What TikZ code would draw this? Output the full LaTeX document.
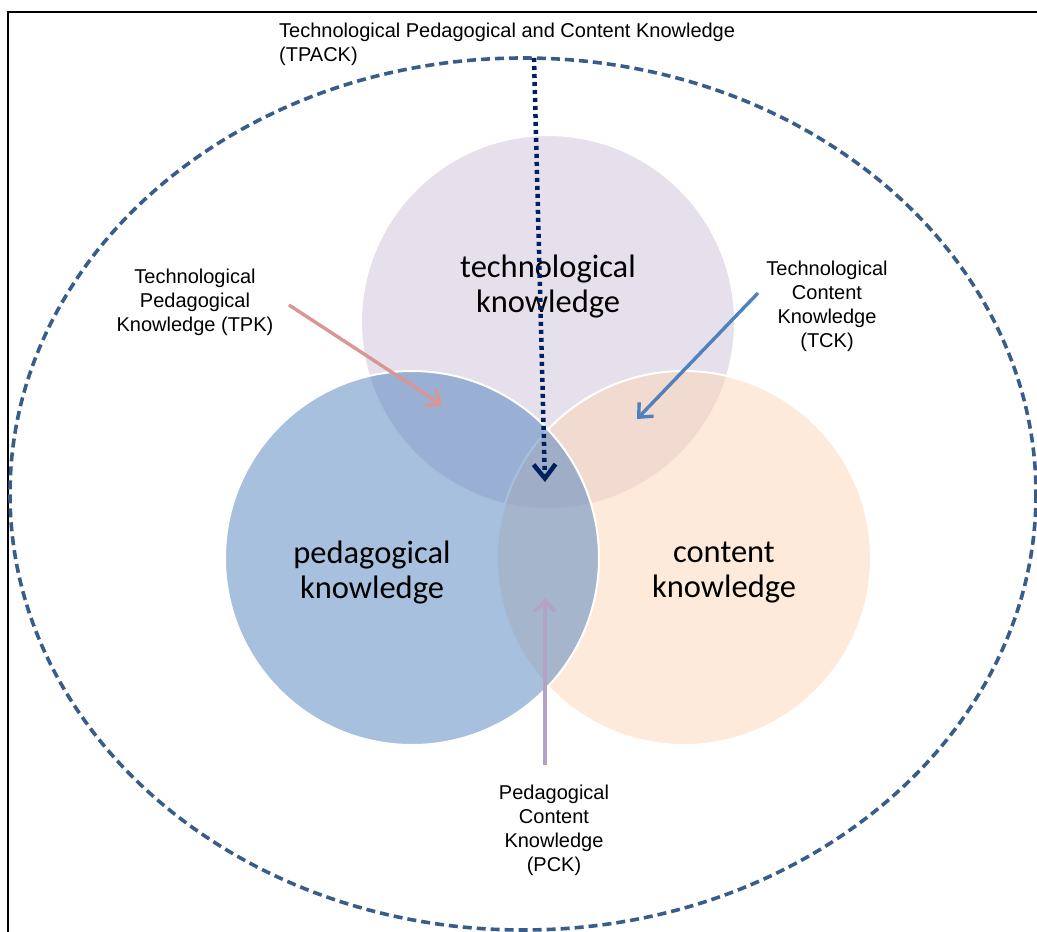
\documentclass[tikz,border=0pt]{standalone}
\usepackage{fontspec}
\setmainfont{Liberation Sans}
\newfontfamily\bigfont{Carlito}
\usetikzlibrary{arrows.meta}

\definecolor{techfill}{RGB}{204,193,218}
\definecolor{pedfill}{RGB}{79,129,189}
\definecolor{confill}{RGB}{252,213,181}
\definecolor{ovalblue}{RGB}{56,93,138}
\definecolor{tpackblue}{RGB}{0,32,96}
\definecolor{tpkpink}{RGB}{217,150,148}
\definecolor{tckblue}{RGB}{79,129,189}
\definecolor{pcklilac}{RGB}{179,162,199}

\tikzset{
  knowcircle/.style={fill opacity=0.5},
  biglabel/.style={font=\bigfont\fontsize{32.5}{35}\selectfont, align=center, inner sep=0},
  smalllabel/.style={font=\fontsize{20}{24}\selectfont, align=center, inner sep=0},
  pointer/.style={line width=3.4, -{Straight Barb[length=11pt,width=20pt,line width=3.4pt]}}
}

\begin{document}
\begin{tikzpicture}[x=1pt, y=-1pt]
\useasboundingbox (0,0) rectangle (1037,932);

% frame and the dashed context oval
\draw [line width=2] (1037,12) -- (8,12) -- (8,932);
\draw [ovalblue, line width=3.6, dash pattern=on 9pt off 5pt] (523,494) ellipse [x radius=513, y radius=436];

% The three knowledge domains
\fill [techfill, knowcircle] (548,322) circle (187);
\draw [white, line width=2] (548,322) circle (187);
\fill [confill, knowcircle] (684,558) circle (187);
\draw [white, line width=2] (684,558) circle (187);
\fill [pedfill, knowcircle] (412,558) circle (187);
\draw [white, line width=2] (412,558) circle (187);

\node [biglabel] (tk) at (548,287) {technological\\knowledge};
\node [biglabel] (pk) at (372,573) {pedagogical\\knowledge};
\node [biglabel] (ck) at (724,573) {content\\knowledge};

% Labels of the intersections
\node [smalllabel, align=left, anchor=west] (tpack) at (279,44) {Technological Pedagogical and Content Knowledge\\(TPACK)};
\node [smalllabel] (tpk) at (195,302) {Technological\\Pedagogical\\Knowledge (TPK)};
\node [smalllabel] (tck) at (827,306) {Technological\\Content\\Knowledge\\(TCK)};
\node [smalllabel] (pck) at (554,830) {Pedagogical\\Content\\Knowledge\\(PCK)};

% Arrow ends
\coordinate (tpack-from) at (534,58);
\coordinate (tpack-to) at (545,482);
\coordinate (tpk-from) at (289,305);
\coordinate (tpk-to) at (442,405);
\coordinate (tck-from) at (758,293);
\coordinate (tck-to) at (637,419);
\coordinate (pck-from) at (545,765);
\coordinate (pck-to) at (545,598);

\draw [tpackblue, line width=4.5, dash pattern=on 4pt off 4pt,
  -{Straight Barb[length=14pt,width=22pt,line width=4.5pt]}] (tpack-from) -- (tpack-to);
\draw [tpkpink, pointer] (tpk-from) -- (tpk-to);
\draw [tckblue, pointer] (tck-from) -- (tck-to);
\draw [pcklilac, pointer] (pck-from) -- (pck-to);
\end{tikzpicture}
\end{document}
